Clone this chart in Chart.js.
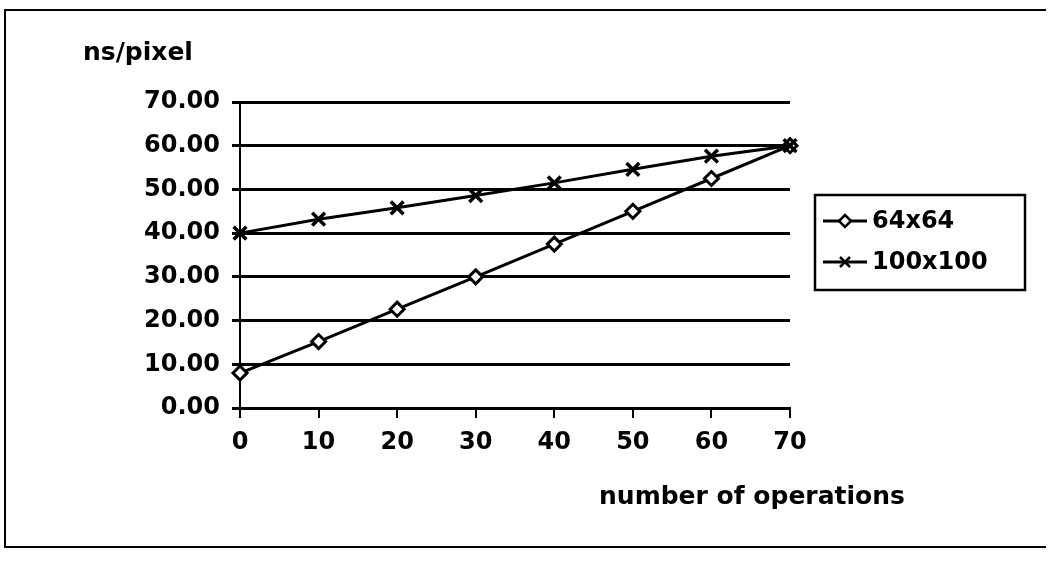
<!DOCTYPE html>
<html>
<head>
<meta charset="utf-8">
<script src="https://cdn.jsdelivr.net/npm/chart.js@4.4.1/dist/chart.umd.min.js"></script>
<style>
  html, body { margin: 0; padding: 0; background: #fff; }
  #wrap {
    position: absolute; left: 4px; top: 9px;
    width: 1040px; height: 535px;
    border-top: 2px solid #000; border-left: 2px solid #000; border-bottom: 2px solid #000;
  }
  canvas { display: block; }
</style>
</head>
<body>
<div id="wrap"><canvas id="opsChart" width="1038" height="535"></canvas></div>
<script>
// number of operations
const operations = [0, 10, 20, 30, 40, 50, 60, 70];
// ns/pixel for each image size
const size64 = [8, 15.2, 22.6, 30, 37.5, 45, 52.5, 60];
const size100 = [40, 43.2, 45.8, 48.6, 51.5, 54.6, 57.6, 60];
const seriesNames = ["64x64", "100x100"];
const yTicks = [0, 10, 20, 30, 40, 50, 60, 70];

const FONT = "'DejaVu Sans', sans-serif";

// draws the axis captions and the boxed legend on the right
const extrasPlugin = {
  id: "extras",
  afterDraw(chart) {
    const ctx = chart.ctx;
    const area = chart.chartArea;
    ctx.save();
    ctx.fillStyle = "#000";
    ctx.font = "bold 25px " + FONT;
    ctx.textBaseline = "middle";
    ctx.textAlign = "left";
    ctx.fillText("ns/pixel", area.left - 157, area.top - 49);
    ctx.textAlign = "center";
    ctx.fillText("number of operations", area.right - 38, area.bottom + 89);

    // legend
    const boxX = area.right + 25;
    const boxY = (area.top + area.bottom) / 2 - 60;
    const boxW = 210;
    const boxH = 95;
    ctx.lineWidth = 2.5;
    ctx.strokeStyle = "#000";
    ctx.strokeRect(boxX, boxY, boxW, boxH);

    chart.data.datasets.forEach((ds, i) => {
      const cy = boxY + 26 + i * 41;
      const x0 = boxX + 8;
      const x1 = boxX + 52;
      const mx = (x0 + x1) / 2;
      ctx.lineWidth = 3;
      ctx.beginPath();
      ctx.moveTo(x0, cy);
      ctx.lineTo(x1, cy);
      ctx.stroke();
      const r = ds.legendR;
      ctx.beginPath();
      ctx.lineWidth = 2.5;
      if (ds.pointStyle === "rectRot") {
        ctx.moveTo(mx, cy - r);
        ctx.lineTo(mx + r, cy);
        ctx.lineTo(mx, cy + r);
        ctx.lineTo(mx - r, cy);
        ctx.closePath();
        ctx.fillStyle = "#fff";
        ctx.fill();
        ctx.stroke();
      } else {
        ctx.moveTo(mx - r, cy - r);
        ctx.lineTo(mx + r, cy + r);
        ctx.moveTo(mx + r, cy - r);
        ctx.lineTo(mx - r, cy + r);
        ctx.stroke();
      }
      ctx.fillStyle = "#000";
      ctx.textAlign = "left";
      ctx.font = "bold 24px " + FONT;
      ctx.fillText(ds.label, x1 + 5, cy + 1);
    });
    ctx.restore();
  },
};

const ctx = document.getElementById("opsChart").getContext("2d");
new Chart(ctx, {
  type: "line",
  data: {
    datasets: [
      {
        label: seriesNames[0],
        data: operations.map((x, i) => ({ x: x, y: size64[i] })),
        borderColor: "#000",
        borderWidth: 3,
        pointStyle: "rectRot",
        pointRadius: 7,
        pointBorderWidth: 3,
        pointBackgroundColor: "#fff",
        pointBorderColor: "#000",
        legendR: 6,
        tension: 0,
        clip: false,
        order: 2,
      },
      {
        label: seriesNames[1],
        data: operations.map((x, i) => ({ x: x, y: size100[i] })),
        borderColor: "#000",
        borderWidth: 3,
        pointStyle: "crossRot",
        pointRadius: 9,
        pointBorderWidth: 3.5,
        pointBackgroundColor: "#fff",
        pointBorderColor: "#000",
        legendR: 5,
        tension: 0,
        clip: false,
        order: 1,
      },
    ],
  },
  options: {
    responsive: false,
    animation: false,
    layout: {
      padding: { top: 91, right: 254, left: 0, bottom: 0 },
    },
    plugins: {
      legend: { display: false },
      tooltip: { enabled: false },
    },
    scales: {
      x: {
        type: "linear",
        min: 0,
        max: 70,
        afterFit: (scale) => { scale.height = 138; },
        afterBuildTicks: (scale) => {
          scale.ticks = operations.map((v) => ({ value: v }));
        },
        grid: {
          drawOnChartArea: false,
          drawTicks: true,
          tickLength: 10,
          color: "#000",
          lineWidth: 2,
        },
        border: { display: true, color: "#000", width: 2.5 },
        ticks: {
          padding: 10,
          color: "#000",
          font: { family: FONT, size: 24, weight: "bold" },
        },
      },
      y: {
        min: 0,
        max: 70,
        afterFit: (scale) => { scale.width = 234; },
        afterBuildTicks: (scale) => {
          scale.ticks = yTicks.map((v) => ({ value: v }));
        },
        grid: {
          color: "#000",
          lineWidth: 3,
          drawTicks: true,
          tickLength: 8,
        },
        border: { display: true, color: "#000", width: 2 },
        ticks: {
          padding: 12,
          color: "#000",
          font: { family: FONT, size: 24, weight: "bold" },
          callback: (v) => Number(v).toFixed(2),
        },
      },
    },
  },
  plugins: [extrasPlugin],
});
</script>
</body>
</html>
